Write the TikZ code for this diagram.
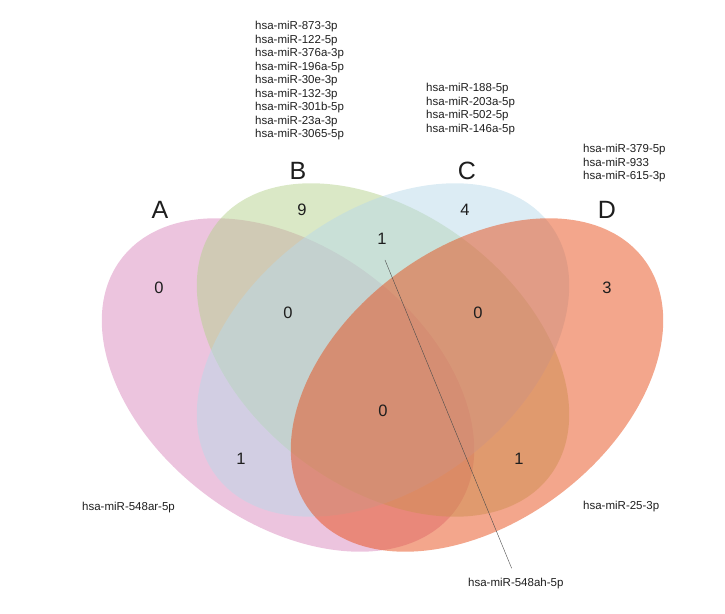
\documentclass[tikz,border=0pt]{standalone}
\usepackage{fontspec}
\setmainfont{Liberation Sans}
\usetikzlibrary{positioning}
\definecolor{mypink}{RGB}{217,137,189}
\definecolor{mygreen}{RGB}{181,209,141}
\definecolor{myblue}{RGB}{185,217,233}
\definecolor{myorange}{RGB}{231,77,25}
\definecolor{mydark}{RGB}{30,30,30}
\tikzset{
  venn/.style={fill opacity=0.5, draw=none},
  setlabel/.style={font=\fontsize{25}{28}\selectfont, text=mydark},
  count/.style={font=\fontsize{16.5}{19}\selectfont, text=mydark},
  mirlist/.style={font=\fontsize{11.5}{13.5}\selectfont, align=left,
    inner sep=0pt, anchor=north west, text=mydark},
  mirlabel/.style={font=\fontsize{11.5}{13.5}\selectfont,
    inner sep=0pt, anchor=west, text=mydark},
  leader/.style={line width=0.4pt, color=mydark!80}
}
\begin{document}
\begin{tikzpicture}[x=1pt, y=1pt]
  \useasboundingbox (0,0) rectangle (725,613);

  % the four sets
  \fill[venn, mypink, rotate around={-37:(288,228)}] (288,228) ellipse [x radius=209, y radius=137];
  \fill[venn, mygreen, rotate around={-37:(383,263)}] (383,263) ellipse [x radius=209, y radius=137];
  \fill[venn, myblue, rotate around={37:(383,263)}] (383,263) ellipse [x radius=209, y radius=137];
  \fill[venn, myorange, rotate around={37:(477,228)}] (477,228) ellipse [x radius=209, y radius=137];

  % set names
  \node[setlabel] (lA) at (160,403) {A};
  \node[setlabel] (lB) at (298,442) {B};
  \node[setlabel] (lC) at (467,442) {C};
  \node[setlabel] (lD) at (607,403) {D};

  % counts
  \node[count] (nA) at (159,325) {0};
  \node[count] (nB) at (302,403) {9};
  \node[count] (nC) at (465,403) {4};
  \node[count] (nD) at (607,325) {3};
  \node[count] (nBC) at (382,374) {1};
  \node[count] (nABC) at (288,300) {0};
  \node[count] (nBCD) at (478,300) {0};
  \node[count] (nABCD) at (383,202) {0};
  \node[count] (nAC) at (241,154) {1};
  \node[count] (nBD) at (519,154) {1};

  % miRNA names
  \node[mirlist] (mB) at (255,592) {hsa-miR-873-3p\\hsa-miR-122-5p\\hsa-miR-376a-3p\\hsa-miR-196a-5p\\hsa-miR-30e-3p\\hsa-miR-132-3p\\hsa-miR-301b-5p\\hsa-miR-23a-3p\\hsa-miR-3065-5p};
  \node[mirlist] (mC) at (426,530) {hsa-miR-188-5p\\hsa-miR-203a-5p\\hsa-miR-502-5p\\hsa-miR-146a-5p};
  \node[mirlist] (mD) at (583,469) {hsa-miR-379-5p\\hsa-miR-933\\hsa-miR-615-3p};
  \node[mirlabel] (mAC) at (82,105) {hsa-miR-548ar-5p};
  \node[mirlabel] (mBD) at (583,106) {hsa-miR-25-3p};
  \node[mirlabel] (mBC) at (468,29) {hsa-miR-548ah-5p};

  \coordinate (tipBC) at (385,353);
  \draw[leader, shorten <=11pt] (mBC.north) -- (tipBC);
\end{tikzpicture}
\end{document}
